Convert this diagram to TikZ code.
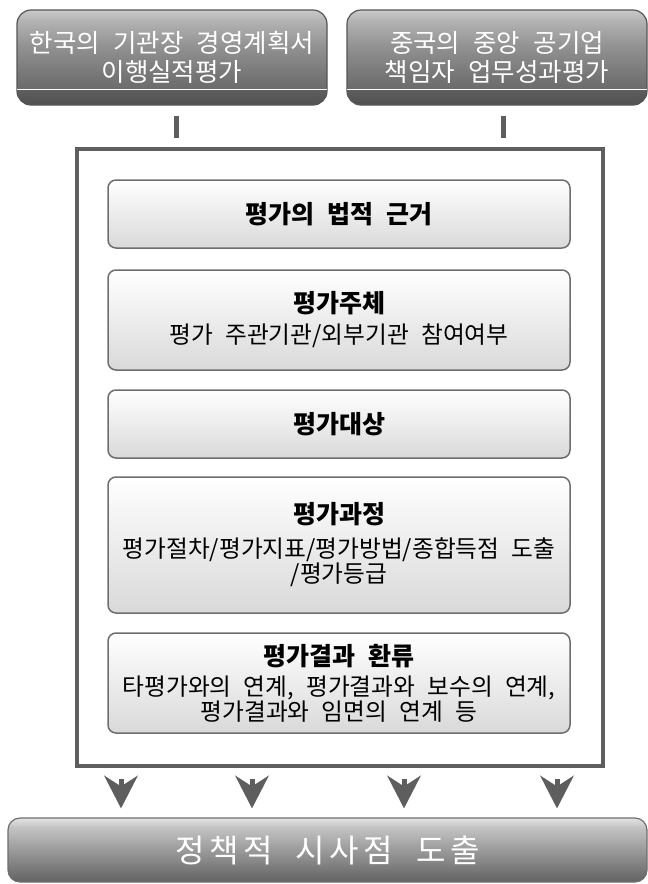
\documentclass[tikz,border=0pt]{standalone}
\usepackage{fontspec}
\setmainfont{Noto Sans CJK KR}
\newfontfamily\krtop[WordSpace=1.3]{Noto Sans CJK KR}
\newfontfamily\krin[WordSpace=2.3]{Noto Sans CJK KR}
\newfontfamily\krbot[WordSpace=2,LetterSpace=14]{Noto Sans CJK KR}
\usetikzlibrary{arrows.meta}
\definecolor{fr}{HTML}{5E5E5E}
\definecolor{tb}{HTML}{555555}
\definecolor{ib}{HTML}{6E6E6E}
\definecolor{ibot}{HTML}{D9D9D9}
\definecolor{tA}{HTML}{505050}
\definecolor{tB}{HTML}{5E5E5E}
\definecolor{tC}{HTML}{6C6C6C}
\definecolor{tD}{HTML}{767676}
\definecolor{tE}{HTML}{939393}
\definecolor{tF}{HTML}{B4B4B4}
\definecolor{tG}{HTML}{CACACA}
\definecolor{bA}{HTML}{626262}
\definecolor{bB}{HTML}{9A9A9A}
\definecolor{bC}{HTML}{C4C4C4}
\definecolor{bD}{HTML}{E4E4E4}
\pgfdeclareverticalshading{topsh}{100bp}{color(0bp)=(tA); color(25bp)=(tA); color(32.9bp)=(tB); color(33.9bp)=(tC); color(40.8bp)=(tD); color(56.6bp)=(tE); color(69.7bp)=(tF); color(75bp)=(tG); color(100bp)=(tG)}
\pgfdeclareverticalshading{botsh}{100bp}{color(0bp)=(bA); color(25bp)=(bA); color(50bp)=(bB); color(68bp)=(bC); color(75bp)=(bD); color(100bp)=(bD)}
\newcommand\boxtitle[1]{{\bfseries\fontsize{25pt}{26pt}\selectfont #1}}
\begin{document}
\begin{tikzpicture}[x=1pt,y=-1pt,
  topbox/.style={rounded corners=14pt, draw=tb, line width=1.2pt, shade, shading=topsh,
    minimum height=95pt, inner sep=0pt, text=white, align=center,
    font=\krtop\fontsize{25.5pt}{28.5pt}\selectfont},
  inbox/.style={rounded corners=8pt, draw=ib, line width=1.5pt, top color=white, bottom color=ibot,
    minimum width=462pt, inner sep=0pt, text=black, align=center,
    font=\krin\fontsize{23.7pt}{25pt}\selectfont},
  botbox/.style={rounded corners=12pt, draw=ib, line width=1.2pt, shade, shading=botsh,
    minimum width=639pt, minimum height=64pt, inner sep=0pt, text=white,
    font=\krbot\fontsize{32pt}{34pt}\selectfont},
  conn/.style={draw=fr, line width=5pt},
  arr/.style={draw=fr, fill=fr, line width=5pt,
    -{Stealth[length=33pt,width=34pt,inset=11pt,line width=0pt]}},
  sepline/.style={draw=white, line width=1pt}
]
\useasboundingbox (0,0) rectangle (648,884);

% top boxes
\node[topbox, minimum width=310pt] (ko) at (172,57.5) {한국의 기관장 경영계획서\\이행실적평가};
\node[topbox, minimum width=300pt] (cn) at (497,57.5) {중국의 중앙 공기업\\책임자 업무성과평가};
\draw[sepline] ([xshift=1pt,yshift=16pt]ko.south west) -- ([xshift=-1pt,yshift=16pt]ko.south east);
\draw[sepline] ([xshift=1pt,yshift=16pt]cn.south west) -- ([xshift=-1pt,yshift=16pt]cn.south east);

% frame
\node[draw=fr, line width=4pt, minimum width=526.3pt, minimum height=616.8pt, inner sep=0pt] (frame) at (339.85,457.1) {};

% connectors
\coordinate (c1) at (176,0);
\coordinate (c2) at (503,0);
\draw[conn, shorten <=10pt, shorten >=8.7pt] (ko.south -| c1) -- (frame.north -| c1);
\draw[conn, shorten <=10pt, shorten >=8.7pt] (cn.south -| c2) -- (frame.north -| c2);

% inner boxes
\node[inbox, minimum height=68pt] (b1) at (339,214) {\boxtitle{평가의 법적 근거}};
\node[inbox, minimum height=100pt] (b2) at (339,320) {\boxtitle{평가주체}\\[6pt]평가 주관기관/외부기관 참여여부};
\node[inbox, minimum height=68pt] (b3) at (339,424) {\boxtitle{평가대상}};
\node[inbox, minimum height=136pt] (b4) at (339,545) {\boxtitle{평가과정}\\[9pt]평가절차/평가지표/평가방법/종합득점 도출\\/평가등급};
\node[inbox, minimum height=100pt] (b5) at (339,683) {\boxtitle{평가결과 환류}\\[5pt]타평가와의 연계, 평가결과와 보수의 연계,\\평가결과와 임면의 연계 등};

% bottom box
\node[botbox] (bot) at (327.5,850) {정책적 시사점 도출};

% arrows
\foreach \ax [count=\i] in {121,252,404,557} {
  \coordinate (a\i) at (\ax,0);
  \draw[arr, shorten <=11.5pt, shorten >=9pt] (frame.south -| a\i) -- (bot.north -| a\i);
}
\end{tikzpicture}
\end{document}
